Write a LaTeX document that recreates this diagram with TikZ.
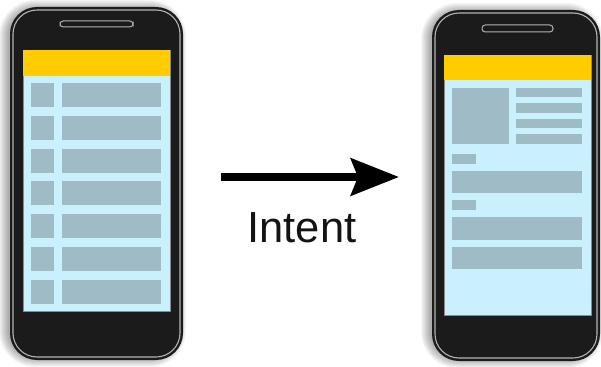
\documentclass[tikz,border=0pt]{standalone}
\usepackage{fontspec}
\setmainfont{Liberation Sans}
\usetikzlibrary{arrows.meta}
\definecolor{bodyc}{HTML}{1B1B1B}
\definecolor{edgec}{HTML}{B4B4B4}
\definecolor{barc}{HTML}{FFCC00}
\definecolor{screenc}{HTML}{C9F0FC}
\definecolor{itemc}{HTML}{9FBCC6}
\definecolor{framec}{HTML}{8A8A8A}
\begin{document}
\begin{tikzpicture}[x=1pt,y=-1pt,
  phonebody/.style={fill=bodyc},
  phoneedge/.style={draw=edgec, line width=1.1pt},
  speaker/.style={draw=edgec, line width=1pt, fill=bodyc, rounded corners=3.2pt},
  screen/.style={fill=screenc, draw=framec, line width=0.8pt},
  topbar/.style={fill=barc},
  item/.style={fill=itemc},
  shadowc/.style={fill=black, opacity=0.035},
  intentarrow/.style={line width=8pt, -{Stealth[length=48pt, width=37pt, inset=7pt]}},
  labeltext/.style={font=\fontsize{43.5}{50}\selectfont, text=black!92, inner sep=0pt, anchor=base}
]
\useasboundingbox (0,0) rectangle (601,366);
\fill[white] (0,0) rectangle (601,366);

% ---------- left phone ----------
\foreach \i in {1,...,10}
  \fill[shadowc, rounded corners=26+\i] (10-\i-1,7-\i+3) rectangle (183+\i-7,360+\i-3);
\fill[phonebody, rounded corners=27pt] (10,7) rectangle (183,360);
\draw[phoneedge, rounded corners=24pt] (13,10) rectangle (180,357);
\draw[speaker] (60,21) rectangle (133,27);
\draw[screen] (23,50) rectangle (170,311);
\fill[topbar] (23,50) rectangle (170,76);
\foreach \k in {0,...,6} {
  \fill[item] (31,83+\k*32.8) rectangle (54,107+\k*32.8);
  \fill[item] (62,83+\k*32.8) rectangle (161,107+\k*32.8);
}

% ---------- right phone ----------
\foreach \i in {1,...,10}
  \fill[shadowc, rounded corners=26+\i] (432-\i-1,10-\i+3) rectangle (600+\i-7,361+\i-3);
\fill[phonebody, rounded corners=27pt] (432,10) rectangle (600,361);
\draw[phoneedge, rounded corners=24pt] (435,13) rectangle (597,358);
\draw[speaker] (482,25) rectangle (553,32);
\draw[screen] (444,55) rectangle (591,315);
\fill[topbar] (444,55) rectangle (591,80);
\fill[item] (452,88) rectangle (509,144);
\fill[item] (516,88) rectangle (582,97);
\fill[item] (516,103) rectangle (582,113);
\fill[item] (516,119) rectangle (582,128);
\fill[item] (516,134) rectangle (582,144);
\fill[item] (452,154) rectangle (476,164);
\fill[item] (452,171) rectangle (582,193);
\fill[item] (452,200) rectangle (476,210);
\fill[item] (452,217) rectangle (582,240);
\fill[item] (452,247) rectangle (582,269);

% ---------- arrow and label ----------
\coordinate (from) at (221,177);
\coordinate (to) at (399,177);
\draw[intentarrow] (from) -- (to);
\node[labeltext] (label) at (302,242) {Intent};
\end{tikzpicture}
\end{document}
